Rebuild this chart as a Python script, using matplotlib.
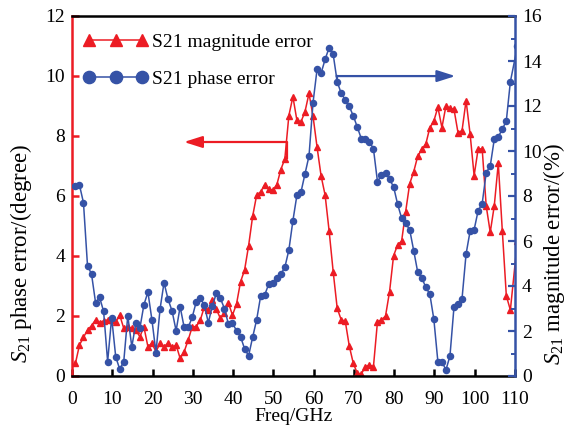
import numpy as np
import matplotlib
matplotlib.use("Agg")
import matplotlib.pyplot as plt
from matplotlib.ticker import MultipleLocator

plt.rcParams['font.family'] = ['Liberation Serif', 'DejaVu Serif']
plt.rcParams['mathtext.fontset'] = 'custom'
plt.rcParams['mathtext.rm'] = 'Liberation Serif'
plt.rcParams['mathtext.it'] = 'Liberation Serif:italic'

# S21 magnitude error (red triangles, left axis)
red_vals = [0.42, 1.03, 1.29, 1.53, 1.68, 1.87, 1.78, 1.84, 1.87, 1.87,
            1.80, 2.03, 1.59, 1.64, 1.59, 1.53, 1.31, 1.64, 0.98, 1.09,
            0.81, 1.09, 0.98, 1.09, 0.96, 1.03, 0.59, 0.81, 1.20, 1.64,
            1.65, 1.86, 2.30, 2.20, 2.53, 2.22, 1.92, 2.09, 2.43, 2.03,
            2.40, 3.14, 3.53, 4.34, 5.32, 6.03, 6.14, 6.38, 6.22, 6.20,
            6.37, 6.88, 7.24, 8.68, 9.31, 8.52, 8.47, 8.81, 9.42, 8.66,
            7.63, 6.67, 6.03, 4.83, 3.48, 2.26, 1.87, 1.83, 1.00, 0.42,
            0.09, 0.07, 0.31, 0.37, 0.31, 1.81, 1.87, 2.00, 2.81, 4.01,
            4.37, 4.50, 5.48, 6.41, 6.81, 7.33, 7.56, 7.73, 8.28, 8.50,
            8.96, 8.28, 9.00, 8.92, 8.89, 8.11, 8.18, 9.18, 8.07, 6.68,
            7.57, 7.57, 5.67, 4.79, 5.67, 7.09, 4.84, 2.67, 2.20, 4.50]

# S21 phase error (blue circles, right axis)
blue_vals = [8.44, 8.49, 7.70, 4.90, 4.53, 3.26, 3.50, 2.87, 0.64, 2.60,
             0.86, 0.30, 0.64, 2.68, 1.30, 2.34, 2.12, 3.16, 3.73, 2.49,
             1.04, 2.96, 4.15, 3.41, 2.89, 2.01, 3.08, 2.16, 2.16, 2.61,
             3.30, 3.45, 3.16, 2.37, 3.11, 3.68, 3.45, 3.00, 2.30, 2.34,
             2.02, 1.75, 1.21, 0.90, 1.72, 2.50, 3.56, 3.60, 4.09, 4.15,
             4.34, 4.53, 4.83, 5.60, 6.90, 8.04, 8.17, 8.98, 9.78, 12.15,
             13.63, 13.46, 14.07, 14.60, 14.30, 13.08, 12.56, 12.28, 11.98, 11.56,
             11.06, 10.54, 10.54, 10.41, 10.10, 8.64, 8.93, 9.04, 8.74, 8.41,
             7.64, 7.01, 6.78, 6.50, 5.57, 4.61, 4.37, 3.94, 3.64, 2.52,
             0.64, 0.64, 0.27, 0.89, 3.07, 3.22, 3.44, 5.42, 6.44, 6.50,
             7.35, 7.66, 9.04, 9.33, 10.52, 10.64, 10.96, 11.35, 13.08, 14.65]

freq = [0.85 + i for i in range(109)] + [110.6]

x_ticks = [0, 10, 20, 30, 40, 50, 60, 70, 80, 90, 100, 110]
left_ticks = [0, 2, 4, 6, 8, 10, 12]
right_ticks = [0, 2, 4, 6, 8, 10, 12, 14, 16]

RED = '#ec1c24'
BLUE = '#3552a6'

fig = plt.figure(figsize=(5.81, 4.32), dpi=100, facecolor='white')
ax = fig.add_axes([72/581, 56/432, 443/581, 360/432])
ax.set_facecolor('white')
ax2 = ax.twinx()

l1, = ax.plot(freq, red_vals, color=RED, lw=1.1, marker='^', ms=4.6,
              mec=RED, mfc=RED, label='S21 magnitude error')
l2, = ax2.plot(freq, blue_vals, color=BLUE, lw=1.1, marker='o', ms=4.4,
               mec=BLUE, mfc=BLUE, label='S21 phase error')

ax.set_xlim(0, 110)
ax.set_ylim(0, 12)
ax2.set_ylim(0, 16)
ax.set_xticks(x_ticks)
ax.set_yticks(left_ticks)
ax2.set_yticks(right_ticks)
ax2.yaxis.set_minor_locator(MultipleLocator(1))

fs = 14
for a in (ax, ax2):
    for sp in a.spines.values():
        sp.set_linewidth(1.8)
ax.spines['left'].set_color(RED)
ax.spines['right'].set_visible(False)
ax.spines['bottom'].set_color('black')
ax.spines['top'].set_color('black')
ax2.spines['left'].set_visible(False)
ax2.spines['top'].set_visible(False)
ax2.spines['bottom'].set_visible(False)
ax2.spines['right'].set_color(BLUE)

ax.tick_params(axis='x', direction='in', length=5, width=1.8, color='black',
               labelsize=fs, pad=11, top=False)
ax.tick_params(axis='y', direction='in', length=5, width=1.8, color=RED,
               labelsize=fs, pad=5, right=False)
ax2.tick_params(axis='y', which='major', direction='in', length=5, width=1.6,
                color=BLUE, labelsize=fs, pad=5)
ax2.tick_params(axis='y', which='minor', direction='in', length=3, width=1.4,
                color=BLUE)

ax.set_xlabel('Freq/GHz', fontsize=fs, labelpad=0)
ax.set_ylabel('$S_{21}$ phase error/(degree)', fontsize=16.5)
ax2.set_ylabel('$S_{21}$ magnitude error/(%)', fontsize=16.5)
ax.yaxis.set_label_coords(-0.086, 0.34)
ax2.yaxis.set_label_coords(1.059, 0.34)

# red arrow pointing left
ax.plot([53.3, 53.3], [7.25, 7.8], color=RED, lw=1.6, solid_capstyle='butt')
ax.annotate('', xy=(27.8, 7.8), xytext=(53.4, 7.8),
            arrowprops=dict(arrowstyle='-|>,head_length=1.1,head_width=0.35',
                            color=RED, lw=1.6, shrinkA=0, shrinkB=0))
# blue arrow pointing right
ax2.plot([65.8, 65.8], [13.08, 13.33], color=BLUE, lw=1.6)
ax2.annotate('', xy=(95.2, 13.33), xytext=(65.7, 13.33),
             arrowprops=dict(arrowstyle='-|>,head_length=1.1,head_width=0.35',
                             color=BLUE, lw=1.6, shrinkA=0, shrinkB=0))

leg = ax.legend([l1, l2], ['S21 magnitude error', 'S21 phase error'],
                loc='upper left', bbox_to_anchor=(0.0, 0.985), frameon=False,
                numpoints=3, markerscale=2.0, handlelength=3.3,
                handletextpad=0.2, labelspacing=1.0, fontsize=fs,
                borderaxespad=0.2)

fig.savefig('out.png', dpi=100, facecolor=fig.get_facecolor())
